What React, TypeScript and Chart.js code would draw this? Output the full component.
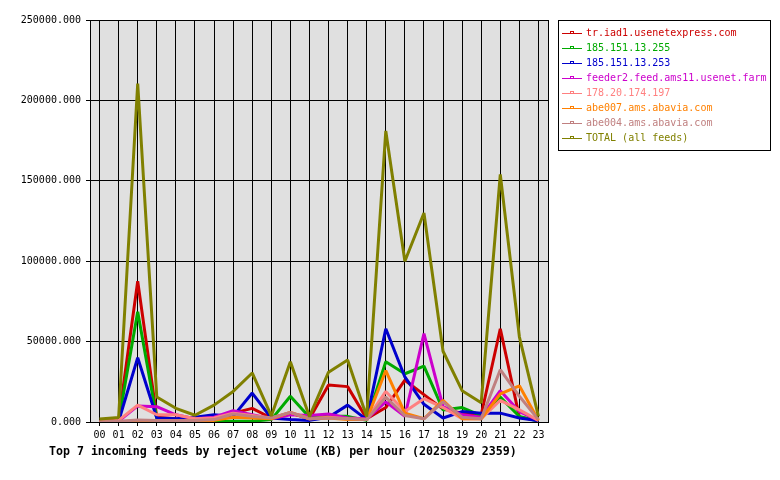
import React, { useEffect, useRef } from "react";
import { Chart, registerables } from "chart.js";

Chart.register(...registerables);

const HOURS = ["00","01","02","03","04","05","06","07","08","09","10","11","12","13","14","15","16","17","18","19","20","21","22","23"];

const SERIES_NAMES = [
  "tr.iad1.usenetexpress.com",
  "185.151.13.255",
  "185.151.13.253",
  "feeder2.feed.ams11.usenet.farm",
  "178.20.174.197",
  "abe007.ams.abavia.com",
  "abe004.ams.abavia.com",
  "TOTAL (all feeds)",
];

const SERIES_COLORS = ["#cc0000", "#00aa00", "#0000cc", "#cc00cc", "#ff8080", "#ff8000", "#c08080", "#808000"];

const trIad1 = [500, 1000, 87500, 3000, 2000, 1500, 2000, 5500, 8500, 2500, 5500, 2000, 23000, 22000, 2000, 9000, 26000, 17000, 8000, 5500, 4500, 58000, 3000, 1000];
const ip255 = [0, 500, 68500, 2000, 1000, 500, 500, 500, 500, 1500, 16000, 3000, 3500, 3500, 1000, 37500, 30000, 34800, 7500, 9000, 4000, 15500, 3500, 500];
const ip253 = [0, 500, 40000, 2500, 2000, 3000, 4500, 3500, 18000, 2500, 1500, 1000, 3000, 10500, 1500, 58000, 28000, 11000, 2500, 6500, 5500, 5500, 2500, 800];
const feeder2 = [0, 500, 10000, 9500, 4500, 2000, 3000, 7000, 4500, 2000, 4500, 4000, 5000, 2500, 2000, 12500, 3500, 55000, 9500, 4500, 3000, 19500, 6500, 1000];
const ip197 = [0, 1000, 10500, 4500, 4500, 2000, 2500, 5500, 4000, 2500, 6000, 2000, 3000, 2000, 1500, 19000, 6500, 14500, 9000, 2000, 2000, 13500, 7500, 1000];
const abe007 = [0, 0, 1000, 500, 500, 500, 1000, 3000, 2500, 2000, 6000, 2000, 2500, 1500, 1500, 32000, 5500, 2000, 13500, 2000, 2000, 17500, 22500, 1000];
const abe004 = [0, 500, 1200, 1000, 1000, 1000, 1500, 5000, 3500, 2500, 6000, 2000, 2500, 2000, 1500, 15500, 4000, 2000, 12500, 3000, 2000, 32500, 16000, 1500];
const total = [1800, 2800, 210500, 15500, 8500, 4200, 10500, 19000, 30500, 3800, 37500, 3300, 31000, 38500, 3300, 181000, 100000, 130000, 44000, 19500, 12000, 154000, 53000, 3500];

const SERIES_VALUES = [trIad1, ip255, ip253, feeder2, ip197, abe007, abe004, total];

const Y_MIN = 0;
const Y_MAX = 250000;
const Y_STEP = 50000;

const TITLE = "Top 7 incoming feeds by reject volume (KB) per hour (20250329 2359)";
const MONO = "'DejaVu Sans Mono', 'Liberation Mono', monospace";

const decorPlugin = {
  id: "decor",
  beforeDraw(chart: any) {
    const { ctx, chartArea } = chart;
    ctx.save();
    ctx.fillStyle = "#ffffff";
    ctx.fillRect(0, 0, chart.width, chart.height);
    ctx.fillStyle = "#e0e0e0";
    ctx.fillRect(chartArea.left, chartArea.top, chartArea.right - chartArea.left, chartArea.bottom - chartArea.top);
    ctx.restore();
  },
  afterDraw(chart: any) {
    const { ctx, chartArea } = chart;
    ctx.save();
    ctx.strokeStyle = "#000";
    ctx.lineWidth = 1;
    ctx.strokeRect(Math.round(chartArea.left) + 0.5, Math.round(chartArea.top) + 0.5,
      Math.round(chartArea.right - chartArea.left), Math.round(chartArea.bottom - chartArea.top));

    const lx = chartArea.right + 10;
    const ly = chartArea.top;
    const items = chart.data.datasets;
    ctx.fillStyle = "#fff";
    ctx.fillRect(lx, ly, 212, 130);
    ctx.strokeStyle = "#000";
    ctx.strokeRect(lx + 0.5, ly + 0.5, 212, 130);
    ctx.font = `10px ${MONO}`;
    ctx.textBaseline = "middle";
    ctx.textAlign = "left";
    items.forEach((ds: any, i: number) => {
      const y = Math.round(ly + 13 + i * 15) + 0.5;
      ctx.strokeStyle = ds.borderColor;
      ctx.lineWidth = 1;
      ctx.beginPath();
      ctx.moveTo(lx + 4, y);
      ctx.lineTo(lx + 24, y);
      ctx.stroke();
      ctx.strokeRect(lx + 12.5, y - 2, 3, 2);
      ctx.fillStyle = ds.borderColor;
      ctx.fillText(ds.label, lx + 28, y);
    });

    ctx.fillStyle = "#000";
    ctx.font = `bold 11.6px ${MONO}`;
    ctx.textBaseline = "middle";
    ctx.textAlign = "left";
    ctx.fillText(TITLE, 49, 452);
    ctx.restore();
  },
};

export default function App() {
  const ref = useRef<HTMLCanvasElement | null>(null);

  useEffect(() => {
    document.body.style.margin = "0";
    const canvas = ref.current;
    if (!canvas) return;
    const datasets = SERIES_NAMES.map((name, i) => ({
      label: name,
      data: SERIES_VALUES[i],
      borderColor: SERIES_COLORS[i],
      backgroundColor: SERIES_COLORS[i],
      borderWidth: 3,
      borderJoinStyle: "bevel",
      pointRadius: 0,
      tension: 0,
      fill: false,
      order: SERIES_NAMES.length - i,
    }));
    const chart = new Chart(canvas, {
      type: "line",
      data: { labels: HOURS, datasets },
      options: {
        animation: false,
        responsive: false,
        devicePixelRatio: 1,
        layout: { padding: { left: 0, top: 20, right: 232, bottom: 0 } },
        plugins: {
          legend: { display: false },
          title: { display: false },
          tooltip: { enabled: false },
        },
        scales: {
          x: {
            type: "category",
            offset: true,
            grid: { offset: false, color: "#000", lineWidth: 1, tickLength: 4, drawTicks: true },
            border: { color: "#000", width: 1 },
            ticks: {
              color: "#000",
              font: { family: MONO, size: 10 },
              padding: 3,
              maxRotation: 0,
              autoSkip: false,
            },
            afterFit: (s: any) => { s.height = 58; },
          },
          y: {
            min: Y_MIN,
            max: Y_MAX,
            grid: { color: "#000", lineWidth: 1, tickLength: 4, drawTicks: true },
            border: { color: "#000", width: 1 },
            ticks: {
              stepSize: Y_STEP,
              color: "#000",
              font: { family: MONO, size: 10 },
              padding: 5,
              callback: (v: any) => Number(v).toFixed(3),
            },
            afterFit: (s: any) => { s.width = 90; },
          },
        },
      },
      plugins: [decorPlugin],
    } as any);
    return () => chart.destroy();
  }, []);

  return (
    <div style={{ width: 780, height: 480 }}>
      <canvas ref={ref} width={780} height={480} style={{ display: "block", width: 780, height: 480 }} />
    </div>
  );
}
